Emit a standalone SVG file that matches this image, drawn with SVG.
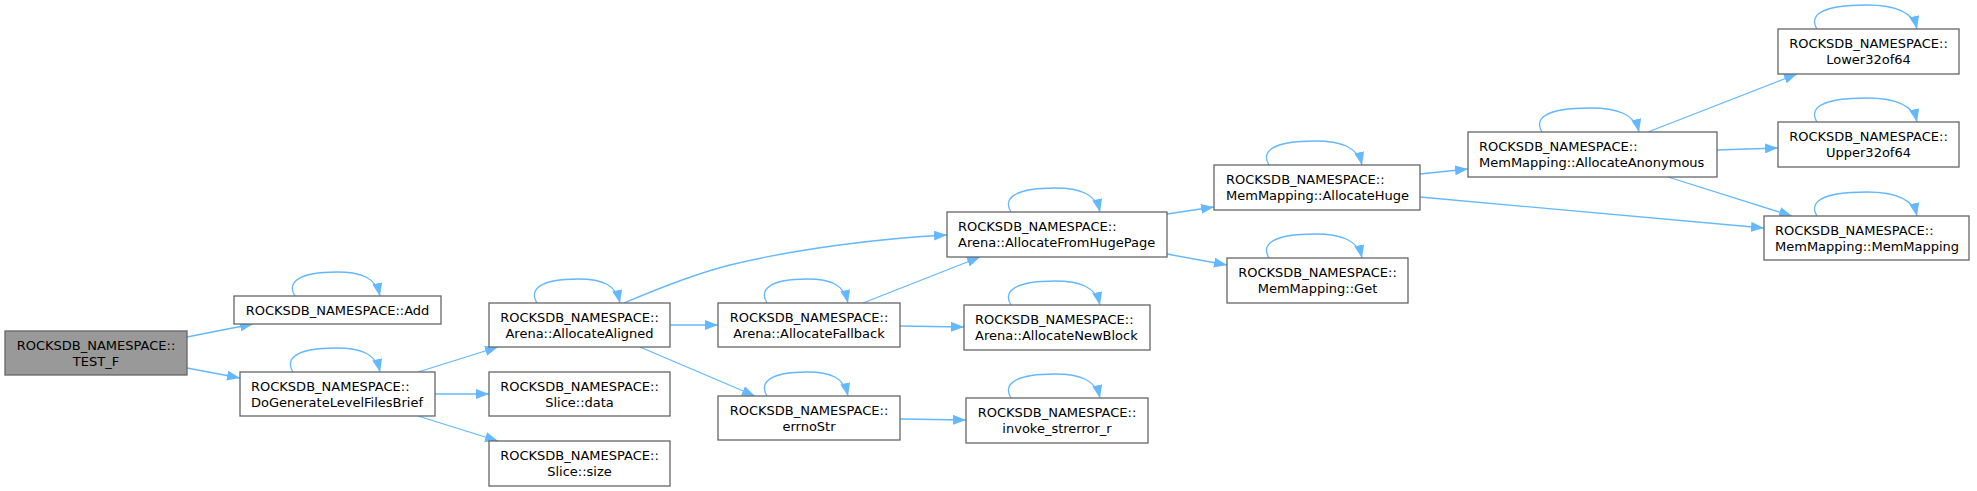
<svg xmlns="http://www.w3.org/2000/svg" width="1977" height="491" viewBox="0 0 1977 491">
<style>
.n rect{fill:#ffffff;stroke:#666666;stroke-width:1.3}
.n.root rect{fill:#999999}
.n text{font-family:"DejaVu Sans",sans-serif;font-size:13px;fill:#000000}
.c{text-anchor:middle}
.e path{fill:none;stroke:#63b8ff;stroke-width:1.3;marker-end:url(#ah)}
</style>
<defs>
<marker id="ah" viewBox="0 0 13 10" refX="13" refY="5" markerWidth="13" markerHeight="10" markerUnits="userSpaceOnUse" orient="auto">
<path d="M0,0 L13,5 L0,10 z" fill="#63b8ff"/>
</marker>
</defs>
<rect width="1977" height="491" fill="#ffffff"/>
<g id="edges" class="e">
<path d="M187,337 L253,324"/>
<path d="M187,368 L240,378"/>
<path d="M418,372 L498,347"/>
<path d="M435,394 L489,394"/>
<path d="M418,416 L498,441"/>
<path d="M670,325 L718,325"/>
<path d="M640,347 L755,396"/>
<path d="M624,303 C650,292 690,275 730,265 C800,248 885,238 947,235"/>
<path d="M863,303 L980,257"/>
<path d="M900,326 L964,327"/>
<path d="M900,419 L966,420"/>
<path d="M1167,214 L1214,207"/>
<path d="M1167,254 L1227,265"/>
<path d="M1420,174 L1468,169"/>
<path d="M1420,197 L1764,228"/>
<path d="M1648,132 L1797,74"/>
<path d="M1717,150 L1778,148"/>
<path d="M1668,177 L1792,216"/>
<path d="M295,296 C287,283 297,272 337,272 C362,272 376,278 380,296"/>
<path d="M293,372 C285,359 295,348 336,348 C362,348 376,354 380,372"/>
<path d="M537,303 C529,290 539,279 578,279 C603,279 616,285 620,303"/>
<path d="M767,303 C759,290 769,279 807,279 C832,279 844,285 848,303"/>
<path d="M767,396 C759,383 769,372 807,372 C832,372 844,378 848,396"/>
<path d="M1011,212 C1003,199 1013,188 1055,188 C1080,188 1096,194 1100,212"/>
<path d="M1011,305 C1003,292 1013,281 1055,281 C1080,281 1096,287 1100,305"/>
<path d="M1011,398 C1003,385 1013,374 1055,374 C1080,374 1096,380 1100,398"/>
<path d="M1269,165 C1261,152 1271,141 1315,141 C1341,141 1358,147 1362,165"/>
<path d="M1269,258 C1261,245 1271,234 1315,234 C1341,234 1358,240 1362,258"/>
<path d="M1542,132 C1534,119 1544,108 1590,108 C1617,108 1635,114 1639,132"/>
<path d="M1817,29 C1809,16 1819,5 1867,5 C1894,5 1913,11 1917,29"/>
<path d="M1817,122 C1809,109 1819,98 1867,98 C1894,98 1913,104 1917,122"/>
<path d="M1817,216 C1809,203 1819,192 1867,192 C1894,192 1913,198 1917,216"/>
</g>
<g id="node-test_f" class="n root"><rect x="5" y="331" width="182" height="44"/><text class="c" x="96" y="349.5">ROCKSDB_NAMESPACE::</text><text class="c" x="96" y="366">TEST_F</text></g>
<g id="node-add" class="n"><rect x="234" y="296" width="207" height="28"/><text class="c" x="337.5" y="314.7">ROCKSDB_NAMESPACE::Add</text></g>
<g id="node-dogenerate" class="n"><rect x="240" y="372" width="195" height="44"/><text x="251" y="390.5">ROCKSDB_NAMESPACE::</text><text x="251" y="407">DoGenerateLevelFilesBrief</text></g>
<g id="node-allocatealigned" class="n"><rect x="489" y="303" width="181" height="44"/><text class="c" x="579.5" y="321.5">ROCKSDB_NAMESPACE::</text><text class="c" x="579.5" y="338">Arena::AllocateAligned</text></g>
<g id="node-slice-data" class="n"><rect x="489" y="372" width="181" height="44"/><text class="c" x="579.5" y="390.5">ROCKSDB_NAMESPACE::</text><text class="c" x="579.5" y="407">Slice::data</text></g>
<g id="node-slice-size" class="n"><rect x="489" y="441" width="181" height="45"/><text class="c" x="579.5" y="459.5">ROCKSDB_NAMESPACE::</text><text class="c" x="579.5" y="476">Slice::size</text></g>
<g id="node-allocatefallback" class="n"><rect x="718" y="303" width="182" height="44"/><text class="c" x="809" y="321.5">ROCKSDB_NAMESPACE::</text><text class="c" x="809" y="338">Arena::AllocateFallback</text></g>
<g id="node-errnostr" class="n"><rect x="718" y="396" width="182" height="44"/><text class="c" x="809" y="414.5">ROCKSDB_NAMESPACE::</text><text class="c" x="809" y="431">errnoStr</text></g>
<g id="node-allocatefromhugepage" class="n"><rect x="947" y="212" width="220" height="45"/><text x="958" y="230.5">ROCKSDB_NAMESPACE::</text><text x="958" y="247">Arena::AllocateFromHugePage</text></g>
<g id="node-allocatenewblock" class="n"><rect x="964" y="305" width="186" height="45"/><text x="975" y="323.5">ROCKSDB_NAMESPACE::</text><text x="975" y="340">Arena::AllocateNewBlock</text></g>
<g id="node-invoke-strerror-r" class="n"><rect x="966" y="398" width="182" height="45"/><text class="c" x="1057" y="416.5">ROCKSDB_NAMESPACE::</text><text class="c" x="1057" y="433">invoke_strerror_r</text></g>
<g id="node-allocatehuge" class="n"><rect x="1214" y="165" width="206" height="45"/><text x="1226" y="183.5">ROCKSDB_NAMESPACE::</text><text x="1226" y="200">MemMapping::AllocateHuge</text></g>
<g id="node-get" class="n"><rect x="1227" y="258" width="181" height="45"/><text class="c" x="1317.5" y="276.5">ROCKSDB_NAMESPACE::</text><text class="c" x="1317.5" y="293">MemMapping::Get</text></g>
<g id="node-allocateanonymous" class="n"><rect x="1468" y="132" width="249" height="45"/><text x="1479" y="150.5">ROCKSDB_NAMESPACE::</text><text x="1479" y="167">MemMapping::AllocateAnonymous</text></g>
<g id="node-lower32of64" class="n"><rect x="1778" y="29" width="181" height="45"/><text class="c" x="1868.5" y="47.5">ROCKSDB_NAMESPACE::</text><text class="c" x="1868.5" y="64">Lower32of64</text></g>
<g id="node-upper32of64" class="n"><rect x="1778" y="122" width="181" height="45"/><text class="c" x="1868.5" y="140.5">ROCKSDB_NAMESPACE::</text><text class="c" x="1868.5" y="157">Upper32of64</text></g>
<g id="node-memmapping" class="n"><rect x="1764" y="216" width="205" height="44"/><text x="1775" y="234.5">ROCKSDB_NAMESPACE::</text><text x="1775" y="251">MemMapping::MemMapping</text></g>
</svg>
